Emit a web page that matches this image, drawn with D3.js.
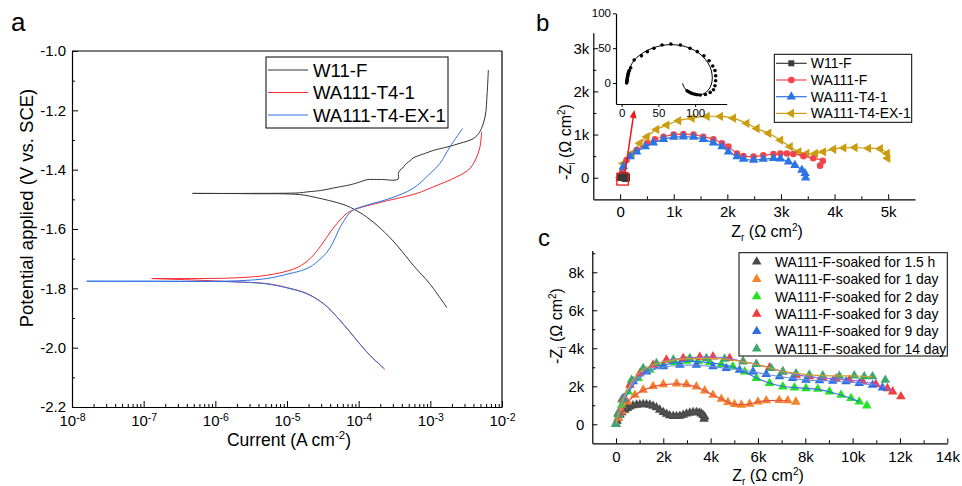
<!DOCTYPE html>
<html><head><meta charset="utf-8">
<script src="https://cdn.jsdelivr.net/npm/d3@7"></script>
<style>body{margin:0;background:#fff}svg{font-family:"Liberation Sans",Arial,sans-serif}</style>
</head><body><svg id="chart" width="962" height="486"></svg>
<script>
// ---------- Panel a: polarization (Tafel) curves ----------
const aSeries = ["W11-F", "WA111-T4-1", "WA111-T4-EX-1"];
const aXTicks = [1e-8, 1e-7, 1e-6, 1e-5, 1e-4, 1e-3, 1e-2];
const aYTicks = [-2.2, -2.0, -1.8, -1.6, -1.4, -1.2, -1.0];
const w11fAnoI = [4.8e-7, 3e-6, 1.5e-5, 1.9e-5, 3e-5, 4.4e-5, 7.6e-5, 1.0e-4, 1.3e-4, 2.0e-4, 3.55e-4, 3.58e-4, 3.7e-4, 3.9e-4, 4.1e-4, 4.4e-4, 4.7e-4, 5.2e-4, 5.8e-4, 7e-4, 8.5e-4, 1.1e-3, 1.7e-3, 2.6e-3, 4.0e-3, 4.9e-3, 5.8e-3, 6.2e-3, 6.45e-3];
const w11fAnoE = [-1.480, -1.480, -1.478, -1.475, -1.470, -1.462, -1.451, -1.443, -1.434, -1.433, -1.432, -1.412, -1.405, -1.398, -1.395, -1.385, -1.378, -1.370, -1.360, -1.352, -1.345, -1.335, -1.324, -1.311, -1.295, -1.272, -1.222, -1.143, -1.064];
const w11fCatI = [4.8e-7, 3e-6, 1.5e-5, 2.55e-5, 5.85e-5, 8.4e-5, 1.3e-4, 2.04e-4, 3.43e-4, 5.75e-4, 9.7e-4, 1.7e-3];
const w11fCatE = [-1.480, -1.481, -1.484, -1.494, -1.516, -1.532, -1.560, -1.599, -1.655, -1.722, -1.783, -1.865];
const t4AnoI = [1.3e-7, 1.78e-6, 5.2e-6, 1.1e-5, 1.6e-5, 2.2e-5, 3.0e-5, 4.2e-5, 6.8e-5, 8.9e-5, 2.2e-4, 6.5e-4, 1.1e-3, 2.35e-3, 3.57e-3, 4.44e-3, 4.93e-3, 5.2e-3];
const t4AnoE = [-1.767, -1.765, -1.756, -1.739, -1.722, -1.695, -1.655, -1.604, -1.548, -1.534, -1.508, -1.480, -1.458, -1.424, -1.396, -1.357, -1.323, -1.272];
const t4CatI = [1.3e-7, 5e-7, 1.78e-6, 5.2e-6, 1.1e-5, 1.88e-5, 3.2e-5, 5.5e-5, 9.4e-5, 1.44e-4, 2.0e-4, 2.33e-4];
const t4CatE = [-1.767, -1.772, -1.778, -1.784, -1.800, -1.817, -1.851, -1.908, -1.975, -2.026, -2.059, -2.074];
const exAnoI = [1.6e-8, 1e-7, 1.78e-6, 5.2e-6, 1.1e-5, 1.6e-5, 2.1e-5, 2.8e-5, 3.57e-5, 4.4e-5, 5.2e-5, 6.1e-5, 8.0e-5, 1.29e-4, 2.74e-4, 5.75e-4, 9.9e-4, 1.36e-3, 1.88e-3, 2.82e-3];
const exAnoE = [-1.776, -1.776, -1.775, -1.767, -1.750, -1.740, -1.728, -1.705, -1.680, -1.645, -1.606, -1.576, -1.539, -1.520, -1.497, -1.463, -1.413, -1.379, -1.323, -1.261];
const exCatI = [1.6e-8, 1e-6, 1.78e-6, 5.2e-6, 1.1e-5, 1.88e-5, 3.2e-5, 5.5e-5, 9.4e-5, 1.44e-4, 2.0e-4, 2.2e-4];
const exCatE = [-1.776, -1.777, -1.778, -1.785, -1.801, -1.818, -1.851, -1.908, -1.975, -2.026, -2.058, -2.068];

// ---------- Panel b: Nyquist plots ----------
const bSeries = ["W11-F", "WA111-F", "WA111-T4-1", "WA111-T4-EX-1"];
const bXTicks = [0, 1000, 2000, 3000, 4000, 5000];
const bYTicks = [0, 1000, 2000, 3000];
const w11fZr = [6.8, 7.0, 7.2, 7.4, 7.6, 7.8, 8.0, 8.3, 8.6, 9.0, 9.5, 10.5, 12.3, 17, 27, 35, 44, 55, 67, 80, 93, 103, 112, 119, 124, 127, 128, 128, 127, 125, 120.5, 114, 107, 103, 100, 97, 95, 93, 91, 89];
const w11fZi = [0, 1.5, 3, 4.5, 6, 7.5, 9, 10.5, 12, 14, 16, 18, 22, 33, 39, 45, 50, 54.5, 56, 54.5, 50, 45, 39, 32, 24.5, 18, 10.5, 3.3, -3.8, -9.6, -13.4, -16.3, -17.2, -16.8, -16.2, -15.4, -14.6, -13.6, -12.4, -11];
const w11fFitZr = [7, 8, 10, 14, 20, 30, 42, 55, 67, 80, 93, 105, 114, 120, 123, 123, 120, 114, 106, 97, 90, 85, 83];
const w11fFitZi = [0, 10, 19, 28, 36, 44, 50, 54, 55, 54, 50, 43, 34, 24, 13, 2, -7, -14, -17, -16, -12, -6, 0];
const wfZr = [0, 40, 120, 310, 500, 650, 810, 1000, 1180, 1370, 1550, 1740, 1900, 2020, 2180, 2300, 2490, 2670, 2860, 2990, 3110, 3230, 3420, 3600, 3780, 3730];
const wfZi = [0, 150, 410, 640, 800, 890, 950, 1000, 1010, 1000, 950, 890, 800, 720, 560, 500, 490, 520, 550, 560, 560, 550, 500, 450, 390, 280];
const t4Zr = [0, 60, 190, 310, 470, 620, 810, 1000, 1180, 1370, 1550, 1740, 1900, 2020, 2180, 2300, 2490, 2670, 2860, 2990, 3140, 3260, 3390, 3450, 3460];
const t4Zi = [0, 260, 490, 600, 720, 810, 890, 940, 950, 940, 890, 810, 720, 600, 490, 430, 410, 430, 450, 440, 370, 290, 180, 100, 0];
const exZr = [0, 60, 220, 370, 500, 680, 870, 1090, 1340, 1620, 1870, 2110, 2360, 2550, 2770, 2990, 3170, 3330, 3480, 3640, 3790, 3980, 4170, 4380, 4630, 4850, 4980, 4990];
const exZi = [0, 330, 560, 800, 950, 1120, 1220, 1320, 1380, 1420, 1420, 1380, 1260, 1140, 1030, 870, 720, 600, 560, 560, 600, 660, 690, 700, 680, 670, 560, 450];
const insetXTicks = [0, 50, 100];
const insetYTicks = [0, 50, 100];

// ---------- Panel c: Nyquist plots vs soaking time ----------
const cSeries = ["WA111-F-soaked for 1.5 h", "WA111-F-soaked for 1 day", "WA111-F-soaked for 2 day", "WA111-F-soaked for 3 day", "WA111-F-soaked for 9 day", "WA111-F-soaked for 14 day"];
const cXTicks = [0, 2000, 4000, 6000, 8000, 10000, 12000, 14000];
const cYTicks = [0, 2000, 4000, 6000, 8000];
const h15Zr = [0, 50, 100, 170, 250, 380, 480, 590, 720, 870, 1010, 1150, 1290, 1430, 1570, 1710, 1850, 2000, 2140, 2270, 2420, 2560, 2700, 2840, 2980, 3120, 3260, 3400, 3520, 3600, 3680, 3750, 3720];
const h15Zi = [0, 170, 330, 490, 620, 750, 850, 930, 990, 1020, 1040, 1050, 1040, 1020, 960, 880, 760, 630, 540, 460, 430, 420, 440, 490, 550, 600, 630, 630, 610, 560, 480, 400, 280];
const d1Zr = [0, 100, 240, 480, 800, 1150, 1570, 2000, 2560, 2980, 3400, 3750, 4100, 4450, 4730, 5010, 5300, 5650, 6000, 6350, 6900, 7260, 7600];
const d1Zi = [0, 330, 670, 1190, 1540, 1810, 2000, 2100, 2140, 2100, 1980, 1770, 1540, 1330, 1160, 1050, 1020, 1070, 1190, 1250, 1260, 1250, 1180];
const d2Zr = [0, 100, 240, 520, 940, 1430, 2000, 2490, 2980, 3470, 3960, 4450, 4940, 5440, 5930, 6490, 7050, 7540, 8030, 8530, 9020, 9510, 9930, 10280, 10600];
const d2Zi = [0, 500, 1020, 1720, 2420, 2860, 3120, 3260, 3330, 3300, 3260, 3160, 3040, 2770, 2420, 2160, 1980, 1930, 1890, 1860, 1720, 1540, 1370, 1190, 980];
const d3Zr = [0, 100, 250, 590, 1010, 1570, 2130, 2840, 3540, 4100, 4800, 5370, 5930, 6490, 7050, 7610, 8170, 8740, 9300, 9860, 10420, 10980, 11470, 11690, 12040];
const d3Zi = [0, 600, 1300, 2070, 2680, 3120, 3390, 3470, 3540, 3560, 3470, 3300, 3160, 2980, 2770, 2600, 2510, 2420, 2390, 2330, 2250, 2110, 1890, 1720, 1460];
const d9Zr = [0, 100, 310, 730, 1290, 2000, 2700, 3400, 4100, 4660, 5220, 5790, 6350, 6910, 7470, 8030, 8600, 9160, 9720, 10280, 10840, 11260];
const d9Zi = [0, 550, 1370, 2250, 2770, 3040, 3120, 3120, 3040, 2950, 2860, 2770, 2630, 2510, 2420, 2330, 2300, 2280, 2250, 2160, 2070, 1930];
const d14Zr = [0, 100, 300, 660, 1150, 1710, 2420, 3120, 3820, 4590, 5370, 5930, 6560, 7050, 7610, 8170, 8740, 9440, 10070, 10490, 10840, 11380];
const d14Zi = [0, 550, 1300, 2330, 2950, 3210, 3390, 3470, 3470, 3440, 3300, 3160, 2950, 2770, 2670, 2600, 2560, 2540, 2560, 2510, 2510, 2330];

// ======================= drawing =======================
const svg = d3.select("#chart");
const zip = (xs, ys) => xs.map((x, i) => [x, ys[i]]);
const FONT = '"Liberation Sans", Arial, sans-serif';

function styleAxis(g, fs) {
  g.selectAll("path.domain").attr("stroke", "#000").attr("stroke-width", 1.2);
  g.selectAll(".tick line").attr("stroke", "#000").attr("stroke-width", 1);
  g.selectAll(".tick text").attr("font-size", fs).attr("font-family", FONT).attr("fill", "#000");
  return g;
}
function minor(g) { g.select(".domain").remove(); g.selectAll("line").attr("stroke", "#000"); }
function kfmt(v) { return v === 0 ? "0" : (v / 1000) + "k"; }

// ---------- Panel a ----------
const ax = d3.scaleLog().domain([1e-8, 1e-2]).range([72, 502]);
const ay = d3.scaleLinear().domain([-2.2, -1.0]).range([407, 51]);
const ga = svg.append("g");
const aMinorX = [];
for (let e = -8; e < -2; e++) for (let m = 2; m <= 9; m++) aMinorX.push(m * Math.pow(10, e));
const aMinorY = [-2.1, -1.9, -1.7, -1.5, -1.3, -1.1];
ga.append("g").attr("transform", "translate(0,407)")
  .call(d3.axisBottom(ax).tickValues(aMinorX).tickFormat("").tickSize(-3).tickSizeOuter(0)).call(minor);
ga.append("g").attr("transform", "translate(72,0)")
  .call(d3.axisLeft(ay).tickValues(aMinorY).tickFormat("").tickSize(-3).tickSizeOuter(0)).call(minor);
const axB = ga.append("g").attr("transform", "translate(0,407)")
  .call(d3.axisBottom(ax).tickValues(aXTicks).tickSize(-6).tickSizeOuter(0).tickPadding(8).tickFormat(() => ""));
styleAxis(axB, 15);
axB.selectAll(".tick text").each(function(d) {
  const t = d3.select(this);
  t.text("10");
  t.append("tspan").attr("dy", "-0.45em").attr("font-size", 10.5).text(Math.round(Math.log10(d)));
});
const axL = ga.append("g").attr("transform", "translate(72,0)")
  .call(d3.axisLeft(ay).tickValues(aYTicks).tickSize(-6).tickSizeOuter(0).tickPadding(6).tickFormat(d3.format(".1f")));
styleAxis(axL, 15);
axL.selectAll(".tick text").text(d => d3.format(".1f")(d).replace("−", "-"));
ga.append("line").attr("x1", 72).attr("x2", 502).attr("y1", 51).attr("y2", 51).attr("stroke", "#000").attr("stroke-width", 1.2);
ga.append("line").attr("x1", 502).attr("x2", 502).attr("y1", 51).attr("y2", 407).attr("stroke", "#000").attr("stroke-width", 1.2);

const aColors = ["#333333", "#f5282d", "#2d72e6"];
const aData = [
  [zip(w11fAnoI, w11fAnoE), zip(w11fCatI, w11fCatE)],
  [zip(t4AnoI, t4AnoE), zip(t4CatI, t4CatE)],
  [zip(exAnoI, exAnoE), zip(exCatI, exCatE)]
];
const aLine = d3.line().x(d => ax(d[0])).y(d => ay(d[1])).curve(d3.curveCatmullRom.alpha(0.5));
aData.forEach((branches, i) => branches.forEach(b => {
  ga.append("path").attr("d", aLine(b)).attr("fill", "none").attr("stroke", aColors[i]).attr("stroke-width", 1);
}));
// legend a
ga.append("rect").attr("x", 266).attr("y", 57).attr("width", 182).attr("height", 71).attr("fill", "#fff").attr("stroke", "#000").attr("stroke-width", 1);
aSeries.forEach((s, i) => {
  const cy = 70 + i * 22.5;
  ga.append("line").attr("x1", 268).attr("x2", 308).attr("y1", cy).attr("y2", cy).attr("stroke", aColors[i]).attr("stroke-width", 1);
  ga.append("text").attr("x", 313).attr("y", cy + 6.5).attr("font-size", 18.6).attr("font-family", FONT).text(s);
});
ga.append("text").attr("x", 11).attr("y", 31).attr("font-size", 26).attr("font-family", FONT).text("a");
ga.append("text").attr("transform", "translate(33,208) rotate(-90)").attr("text-anchor", "middle")
  .attr("font-size", 18.5).attr("font-family", FONT).text("Potential applied (V vs. SCE)");
const aXT = ga.append("text").attr("x", 289).attr("y", 446).attr("text-anchor", "middle").attr("font-size", 17.5).attr("font-family", FONT);
aXT.append("tspan").text("Current (A cm");
aXT.append("tspan").attr("dy", -7).attr("font-size", 11.5).text("-2");
aXT.append("tspan").attr("dy", 7).text(")");

// ---------- Panel b ----------
const bx = d3.scaleLinear().domain([-500, 5500]).range([593.3, 915]);
const by = d3.scaleLinear().domain([-500, 3360]).range([199.3, 32.7]);
const gb = svg.append("g");
gb.append("g").attr("transform", "translate(0,199.3)")
  .call(d3.axisBottom(bx).tickValues([500, 1500, 2500, 3500, 4500]).tickFormat("").tickSize(-3)).call(minor);
gb.append("g").attr("transform", "translate(593.3,0)")
  .call(d3.axisLeft(by).tickValues([500, 1500, 2500]).tickFormat("").tickSize(-3)).call(minor);
styleAxis(gb.append("g").attr("transform", "translate(0,199.3)")
  .call(d3.axisBottom(bx).tickValues(bXTicks).tickFormat(kfmt).tickSize(-5).tickSizeOuter(0).tickPadding(7)), 15);
styleAxis(gb.append("g").attr("transform", "translate(593.3,0)")
  .call(d3.axisLeft(by).tickValues(bYTicks).tickFormat(kfmt).tickSize(-5).tickSizeOuter(0).tickPadding(4)), 15);

const bColors = ["#3a3a3a", "#f0454b", "#2b74e4", "#c99d0e"];
const bSym = [d3.symbolSquare, d3.symbolCircle, d3.symbolTriangle, d3.symbolTriangle];
const bRot = [0, 0, 0, -90];
const bSize = [36, 34, 38, 38];
const bData = [zip(w11fZr, w11fZi), zip(wfZr, wfZi), zip(t4Zr, t4Zi), zip(exZr, exZi)];
const bLine = d3.line().x(d => bx(d[0])).y(d => by(d[1])).curve(d3.curveCatmullRom.alpha(0.5));
[3, 1, 2, 0].forEach(i => {
  gb.append("path").attr("d", bLine(bData[i])).attr("fill", "none").attr("stroke", bColors[i]).attr("stroke-width", 1.2);
  gb.selectAll(null).data(bData[i]).enter().append("path")
    .attr("d", d3.symbol(bSym[i], bSize[i]))
    .attr("transform", d => `translate(${bx(d[0])},${by(d[1])}) rotate(${bRot[i]})`)
    .attr("fill", bColors[i]);
});
// red zoom box + arrow
gb.append("rect").attr("x", bx(-60)).attr("y", by(105)).attr("width", bx(155) - bx(-60)).attr("height", by(-170) - by(105))
  .attr("fill", "none").attr("stroke", "#f01818").attr("stroke-width", 1.3);
const ar0 = [bx(90), by(100)], ar1 = [bx(265), by(1570)];
const ang = Math.atan2(ar1[1] - ar0[1], ar1[0] - ar0[0]);
const hl = 8, hw = 3.5;
gb.append("line").attr("x1", ar0[0]).attr("y1", ar0[1])
  .attr("x2", ar1[0] - (hl - 1) * Math.cos(ang)).attr("y2", ar1[1] - (hl - 1) * Math.sin(ang))
  .attr("stroke", "#f01818").attr("stroke-width", 1.5);
const hp = [[ar1[0], ar1[1]],
  [ar1[0] - hl * Math.cos(ang) + hw * Math.sin(ang), ar1[1] - hl * Math.sin(ang) - hw * Math.cos(ang)],
  [ar1[0] - hl * Math.cos(ang) - hw * Math.sin(ang), ar1[1] - hl * Math.sin(ang) + hw * Math.cos(ang)]];
gb.append("path").attr("d", "M" + hp.map(p => p.join(",")).join("L") + "Z").attr("fill", "#f01818");

// inset (W11-F close-up)
const ix = d3.scaleLinear().domain([-7.7, 143]).range([616, 726.7]);
const iy = d3.scaleLinear().domain([-30, 100]).range([104, 13.3]);
styleAxis(gb.append("g").attr("transform", "translate(0,104)")
  .call(d3.axisBottom(ix).tickValues(insetXTicks).tickSize(3).tickSizeOuter(0).tickPadding(2)), 11.5);
styleAxis(gb.append("g").attr("transform", "translate(616,0)")
  .call(d3.axisLeft(iy).tickValues(insetYTicks).tickSize(3).tickSizeOuter(0).tickPadding(2)), 11.5);
gb.append("path").attr("d", d3.line().x(d => ix(d[0])).y(d => iy(d[1])).curve(d3.curveCatmullRom.alpha(0.5))(zip(w11fFitZr, w11fFitZi)))
  .attr("fill", "none").attr("stroke", "#000").attr("stroke-width", 1);
gb.selectAll(null).data(zip(w11fZr, w11fZi)).enter().append("circle")
  .attr("cx", d => ix(d[0])).attr("cy", d => iy(d[1])).attr("r", 1.8).attr("fill", "#000");

// legend b
gb.append("rect").attr("x", 774.3).attr("y", 54.3).attr("width", 137.4).attr("height", 68).attr("fill", "#fff").attr("stroke", "#000").attr("stroke-width", 1);
bSeries.forEach((s, i) => {
  const cy = 63.3 + i * 16.7;
  gb.append("line").attr("x1", 776).attr("x2", 806.7).attr("y1", cy).attr("y2", cy).attr("stroke", bColors[i]).attr("stroke-width", 1.2);
  gb.append("path").attr("d", d3.symbol(bSym[i], bSize[i])).attr("transform", `translate(791.3,${cy}) rotate(${bRot[i]})`).attr("fill", bColors[i]);
  gb.append("text").attr("x", 810.7).attr("y", cy + 5).attr("font-size", 14).attr("font-family", FONT).text(s);
});
gb.append("text").attr("x", 536).attr("y", 31).attr("font-size", 24).attr("font-family", FONT).text("b");
function zTitle(g, x, y, sub, rotate) {
  const t = g.append("text").attr("text-anchor", "middle").attr("font-size", 16).attr("font-family", FONT)
    .attr("transform", rotate ? `translate(${x},${y}) rotate(-90)` : `translate(${x},${y})`);
  t.append("tspan").text(rotate ? "-Z" : "Z");
  t.append("tspan").attr("dy", 4).attr("font-size", 10).text(sub);
  t.append("tspan").attr("dy", -4).text(" (Ω cm");
  t.append("tspan").attr("dy", -6).attr("font-size", 10).text("2");
  t.append("tspan").attr("dy", 6).text(")");
}
zTitle(gb, 571, 142, "i", true);
zTitle(gb, 767, 237, "r", false);

// ---------- Panel c ----------
const cx = d3.scaleLinear().domain([-1000, 14000]).range([592.3, 947.3]);
const cy = d3.scaleLinear().domain([-1000, 9150]).range([443.3, 250.4]);
const gc = svg.append("g");
gc.append("g").attr("transform", "translate(0,443.3)")
  .call(d3.axisBottom(cx).tickValues([1000, 3000, 5000, 7000, 9000, 11000, 13000]).tickFormat("").tickSize(-3)).call(minor);
gc.append("g").attr("transform", "translate(592.3,0)")
  .call(d3.axisLeft(cy).tickValues([1000, 3000, 5000, 7000, 9000]).tickFormat("").tickSize(-3)).call(minor);
styleAxis(gc.append("g").attr("transform", "translate(0,443.3)")
  .call(d3.axisBottom(cx).tickValues(cXTicks).tickFormat(kfmt).tickSize(-5).tickSizeOuter(0).tickPadding(8)), 15);
styleAxis(gc.append("g").attr("transform", "translate(592.3,0)")
  .call(d3.axisLeft(cy).tickValues(cYTicks).tickFormat(kfmt).tickSize(-5).tickSizeOuter(0).tickPadding(8)), 15);

const cColors = ["#4a4a4a", "#f5832a", "#1fe41f", "#f23d3d", "#2d6fe0", "#3aa86c"];
const cFitColors = ["#555555", "#e8504c", "#3a6fe4", "#a062d8", "#6f8fe0", "#c9a030"];
const cData = [zip(h15Zr, h15Zi), zip(d1Zr, d1Zi), zip(d2Zr, d2Zi), zip(d3Zr, d3Zi), zip(d9Zr, d9Zi), zip(d14Zr, d14Zi)];
const cLine = d3.line().x(d => cx(d[0])).y(d => cy(d[1])).curve(d3.curveBasis);
cData.forEach((dd, i) => {
  gc.selectAll(null).data(dd).enter().append("path")
    .attr("d", d3.symbol(d3.symbolTriangle, 40))
    .attr("transform", d => `translate(${cx(d[0])},${cy(d[1])})`)
    .attr("fill", cColors[i]);
});
cData.forEach((dd, i) => {
  gc.append("path").attr("d", cLine(dd.slice(0, dd.length - 1))).attr("fill", "none").attr("stroke", cFitColors[i]).attr("stroke-width", 1.2);
});
gc.append("rect").attr("x", 739).attr("y", 252.7).attr("width", 208.3).attr("height", 103.3).attr("fill", "#fff").attr("stroke", "#000").attr("stroke-width", 1);
cSeries.forEach((s, i) => {
  const yy = 261.7 + i * 17.4;
  gc.append("path").attr("d", d3.symbol(d3.symbolTriangle, 40)).attr("transform", `translate(756.7,${yy})`).attr("fill", cColors[i]);
  gc.append("text").attr("x", 775).attr("y", yy + 5).attr("font-size", 13.9).attr("font-family", FONT).text(s);
});
gc.append("text").attr("x", 538).attr("y", 246).attr("font-size", 24).attr("font-family", FONT).text("c");
zTitle(gc, 562, 326, "i", true);
zTitle(gc, 768, 481, "r", false);
</script></body></html>
